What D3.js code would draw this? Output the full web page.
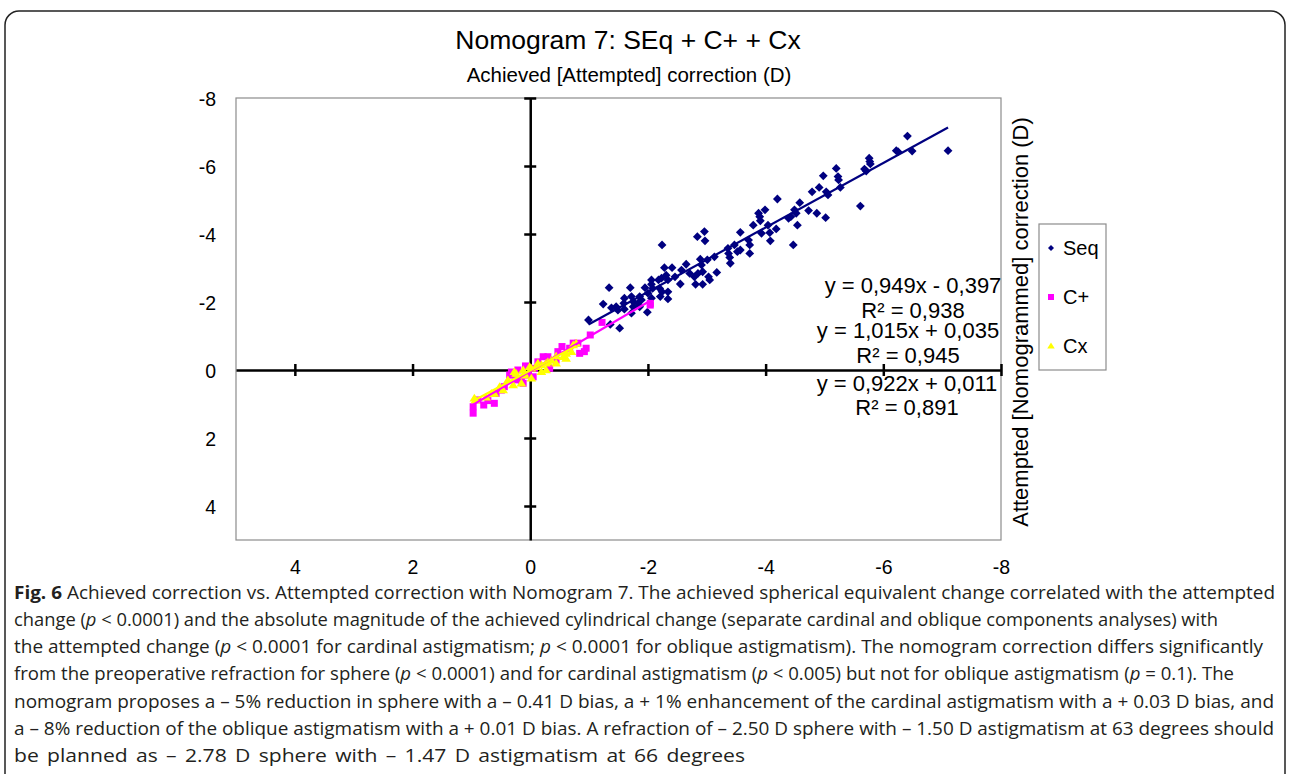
<!DOCTYPE html>
<html>
<head>
<meta charset="utf-8">
<script src="https://cdn.jsdelivr.net/npm/d3@7"></script>
<style>
body{margin:0;background:#fff;}
svg text{font-family:"Liberation Sans",Arial,sans-serif;}
</style>
</head>
<body>
<svg id="fig" width="1290" height="774"></svg>
<script>
// values: [achieved, attempted]
var seqPoints = [
	[-6.41,-6.88],[-7.10,-6.45],[-6.22,-6.45],[-6.25,-6.42],[-6.49,-6.44],[-5.76,-6.23],[-5.77,-6.13],[-5.78,-6.06],[-5.68,-5.91],[-5.71,-5.85],[-5.61,-4.82],
	[-5.20,-5.93],[-4.98,-5.71],[-5.23,-5.69],[-5.24,-5.59],[-4.79,-5.24],[-4.91,-5.37],[-5.03,-5.24],[-5.06,-5.15],[-5.27,-5.37],[-4.20,-5.03],[-4.58,-4.92],
	[-4.49,-4.71],[-4.52,-4.61],[-4.73,-4.69],[-4.87,-4.61],[-5.02,-4.48],[-4.39,-4.46],[-4.43,-4.51],[-4.54,-4.26],[-4.47,-3.68],
	[-3.99,-4.71],[-3.88,-4.61],[-3.90,-4.51],[-3.91,-4.39],[-3.79,-4.26],[-4.04,-4.26],[-4.18,-4.15],[-4.07,-4.04],[-3.93,-4.02],[-4.08,-3.80],[-3.57,-4.05],
	[-2.84,-3.92],[-2.96,-4.07],[-2.97,-3.80],[-3.71,-3.82],[-3.73,-3.68],[-3.47,-3.68],[-3.73,-3.43],[-3.36,-3.58],[-3.37,-3.43],[-3.39,-3.31],[-3.52,-3.48],
	[-3.57,-3.53],[-3.13,-3.33],[-3.01,-3.24],[-2.89,-3.26],[-3.40,-3.14],
	[-2.24,-3.68],[-2.28,-3.01],[-2.41,-3.01],[-2.65,-3.11],[-2.91,-3.09],[-2.57,-2.94],[-2.46,-2.74],[-2.71,-2.84],[-2.79,-2.74],[-2.85,-2.84],[-2.93,-2.89],
	[-3.03,-2.74],[-2.55,-2.53],[-2.81,-2.52],[-2.93,-2.52],[-3.05,-2.65],[-2.31,-2.79],[-2.34,-2.65],[-2.23,-2.70],[-2.18,-2.65],[-2.06,-2.65],[-2.06,-2.52],
	[-2.08,-2.40],[-1.95,-2.42],[-1.70,-2.42],[-1.34,-2.42],[-2.20,-2.40],[-2.24,-2.30],[-2.34,-2.30],[-2.21,-2.16],[-2.34,-2.09],[-2.00,-2.26],[-2.06,-2.11],
	[-1.86,-2.16],[-1.89,-2.06],[-1.72,-2.16],[-1.75,-2.01],[-1.60,-2.11],[-1.59,-1.96],[-1.46,-1.86],[-1.49,-1.76],[-1.38,-1.83],[-1.24,-1.94],[-1.75,-1.86],
	[-1.83,-1.96],[-1.86,-1.86],[-1.99,-1.70],[-1.72,-1.67],[-0.99,-1.47],[-1.36,-1.34],[-1.52,-1.23],[-1.60,-1.79],[-3.17,-2.87]
];
var cPlusPoints = [
	[0.97,1.27],[0.97,1.08],[0.89,0.88],[0.79,1.03],[0.61,0.98],[0.72,0.90],[0.58,0.69],[0.49,0.59],[0.44,0.49],[0.35,0.15],[0.24,0.29],[0.12,0.39],
	[0.21,0.00],[0.15,0.34],[0.32,0.06],[0.08,-0.12],[0.03,0.15],[-0.05,0.20],[-0.07,-0.05],[-0.13,-0.24],[-0.33,-0.05],[-0.30,-0.39],[-0.22,-0.39],
	[-0.47,-0.54],[-0.44,-0.29],[-0.54,-0.69],[-0.67,-0.64],[-0.73,-0.79],[-0.81,-0.79],[-0.84,-0.49],[-0.92,-0.54],[-0.95,-0.64],[-1.02,-1.03],
	[-1.22,-1.40],[-2.04,-1.96],[-2.04,-1.91]
];
var cxPoints = [
	[0.95,0.83],[0.93,0.88],[0.75,0.80],[0.66,0.69],[0.61,0.69],[0.52,0.49],[0.46,0.59],[0.38,0.29],[0.29,0.44],[0.27,0.05],[0.24,0.10],[0.15,0.39],
	[0.12,0.00],[0.10,0.15],[0.10,0.10],[0.01,-0.10],[-0.02,0.24],[-0.02,-0.05],[-0.10,-0.10],[-0.13,-0.20],[-0.19,-0.15],[-0.19,0.05],[-0.27,-0.20],
	[-0.27,0.00],[-0.30,-0.24],[-0.36,-0.29],[-0.44,-0.41],[-0.44,-0.20],[-0.56,-0.39],[-0.61,-0.34],[-0.61,-0.49],[-0.70,-0.54],[-0.73,-0.74],[-0.78,-0.79]
];
var seriesNames = ["Seq","C+","Cx"];
var seriesColors = ["#000080","#ff00ff","#ffff00"];
var trendSlopes = [0.949, 1.015, 0.922];
var trendIntercepts = [-0.397, 0.035, 0.011];
var eqTexts = ["y = 0,949x - 0,397","R² = 0,938","y = 1,015x + 0,035","R² = 0,945","y = 0,922x + 0,011","R² = 0,891"];
var xTicks = [4,2,0,-2,-4,-6,-8];
var yTicks = [-8,-6,-4,-2,0,2,4];
var captionLines = [
	"<b>Fig. 6</b> Achieved correction vs. Attempted correction with Nomogram 7. The achieved spherical equivalent change correlated with the attempted",
	"change (<i>p</i> &lt; 0.0001) and the absolute magnitude of the achieved cylindrical change (separate cardinal and oblique components analyses) with",
	"the attempted change (<i>p</i> &lt; 0.0001 for cardinal astigmatism; <i>p</i> &lt; 0.0001 for oblique astigmatism). The nomogram correction differs significantly",
	"from the preoperative refraction for sphere (<i>p</i> &lt; 0.0001) and for cardinal astigmatism (<i>p</i> &lt; 0.005) but not for oblique astigmatism (<i>p</i> = 0.1). The",
	"nomogram proposes a – 5% reduction in sphere with a – 0.41 D bias, a + 1% enhancement of the cardinal astigmatism with a + 0.03 D bias, and",
	"a – 8% reduction of the oblique astigmatism with a + 0.01 D bias. A refraction of – 2.50 D sphere with – 1.50 D astigmatism at 63 degrees should",
	"be planned as – 2.78 D sphere with – 1.47 D astigmatism at 66 degrees"
];
var captionWidths = [1261, 1204, 1249, 1220, 1260, 1260, 731];

var svg = d3.select("#fig");

// figure frame
svg.append("rect").attr("x",5).attr("y",11).attr("width",1280).attr("height",820).attr("rx",14)
	.attr("fill","none").attr("stroke","#222").attr("stroke-width",1.5);

var plotL = 236, plotR = 1001, plotT = 98, plotB = 540;
var x = d3.scaleLinear().domain([5,-8]).range([plotL,plotR]);
var y = d3.scaleLinear().domain([-8,5]).range([plotT,plotB]);

svg.append("rect").attr("x",plotL).attr("y",plotT).attr("width",plotR-plotL).attr("height",plotB-plotT)
	.attr("fill","#fff").attr("stroke","#8c8c8c").attr("stroke-width",1.2);

// titles
svg.append("text").attr("x",628).attr("y",49).attr("text-anchor","middle").attr("font-size",26.5).text("Nomogram 7: SEq + C+ + Cx");
svg.append("text").attr("x",629).attr("y",82).attr("text-anchor","middle").attr("font-size",20.5).text("Achieved [Attempted] correction (D)");
svg.append("text").attr("transform","translate(1028,322) rotate(-90)").attr("text-anchor","middle").attr("font-size",22)
	.text("Attempted [Nomogrammed] correction (D)");

// tick labels on the frame edges
var fmt = function(d){ return String(d); };
var xLab = svg.append("g").attr("transform","translate(0,"+plotB+")")
	.call(d3.axisBottom(x).tickValues(xTicks).tickFormat(fmt).tickSize(0).tickPadding(20));
var yLab = svg.append("g").attr("transform","translate("+plotL+",0)")
	.call(d3.axisLeft(y).tickValues(yTicks).tickFormat(fmt).tickSize(0).tickPadding(20));
[xLab,yLab].forEach(function(g){
	g.select(".domain").remove();
	g.selectAll("text").attr("font-size",19.5).attr("font-family","Liberation Sans, Arial, sans-serif").attr("fill","#000");
});
yLab.selectAll("text").attr("dy","0.4em");

// crossing axes through zero
var xAx = svg.append("g").attr("transform","translate(0,"+y(0)+")")
	.call(d3.axisBottom(x).tickValues(xTicks.filter(function(d){return d!==0;})).tickFormat("").tickSizeOuter(0));
xAx.selectAll(".tick line").attr("y1",-6).attr("y2",6);
var yAx = svg.append("g").attr("transform","translate("+x(0)+",0)")
	.call(d3.axisLeft(y).tickValues(yTicks.filter(function(d){return d!==0;})).tickFormat("").tickSizeOuter(0));
yAx.selectAll(".tick line").attr("x1",-6).attr("x2",6);
[xAx,yAx].forEach(function(g){
	g.selectAll("path,line").attr("stroke","#000").attr("stroke-width",2.5);
});

// markers
var shapes = [
	function(r){ return "M0,"+(-r)+"L"+r+",0L0,"+r+"L"+(-r)+",0Z"; },
	function(r){ return "M"+(-r)+","+(-r)+"H"+r+"V"+r+"H"+(-r)+"Z"; },
	function(r){ return "M0,"+(-r)+"L"+(r*1.1)+","+(r*0.75)+"L"+(-r*1.1)+","+(r*0.75)+"Z"; }
];
var markSize = [4.4, 3.5, 4.4];
var allSeries = [seqPoints, cPlusPoints, cxPoints];

allSeries.forEach(function(pts,i){
	svg.append("g").selectAll("path").data(pts).enter().append("path")
		.attr("transform",function(d){ return "translate("+x(d[0])+","+y(d[1])+")"; })
		.attr("d",shapes[i](markSize[i]))
		.attr("fill",seriesColors[i]);
});

// linear trendlines over each series' range
allSeries.forEach(function(pts,i){
	var ext = d3.extent(pts,function(d){return d[0];});
	svg.append("line")
		.attr("x1",x(ext[0])).attr("y1",y(trendSlopes[i]*ext[0]+trendIntercepts[i]))
		.attr("x2",x(ext[1])).attr("y2",y(trendSlopes[i]*ext[1]+trendIntercepts[i]))
		.attr("stroke",seriesColors[i]).attr("stroke-width",2.2);
});

// equations
var eqX = [913,913,908,908,907,907];
var eqY = [293,318,338,363,391,415];
svg.append("g").selectAll("text").data(eqTexts).enter().append("text")
	.attr("x",function(d,i){return eqX[i];}).attr("y",function(d,i){return eqY[i];})
	.attr("text-anchor","middle").attr("font-size",22).text(function(d){return d;});

// legend
var lg = svg.append("g");
lg.append("rect").attr("x",1039).attr("y",224).attr("width",67).attr("height",146)
	.attr("fill","#fff").attr("stroke","#8c8c8c").attr("stroke-width",1.2);
var legendSize = [3, 3, 3.4];
seriesNames.forEach(function(name,i){
	var cy = 248 + i*49;
	lg.append("path").attr("transform","translate(1051,"+cy+")").attr("d",shapes[i](legendSize[i])).attr("fill",seriesColors[i]);
	lg.append("text").attr("x",1063).attr("y",cy+7).attr("font-size",20).text(name);
});

// caption
var cap = svg.append("g").attr("fill","#231f20");
captionLines.forEach(function(line,i){
	var last = i === captionLines.length-1;
	var t = cap.append("text").attr("x",14).attr("y",598.5+i*27.3)
		.attr("font-size",18.5).style("font-family","'Open Sans', sans-serif")
		.style("word-spacing", last ? "2.5px" : null)
		.attr("textLength",captionWidths[i])
		.attr("lengthAdjust","spacingAndGlyphs");
	t.html(line.replace(/<b>/g,'<tspan font-weight="bold">').replace(/<\/b>/g,'</tspan>')
		.replace(/<i>/g,'<tspan font-style="italic">').replace(/<\/i>/g,'</tspan>'));
});
</script>
</body>
</html>
